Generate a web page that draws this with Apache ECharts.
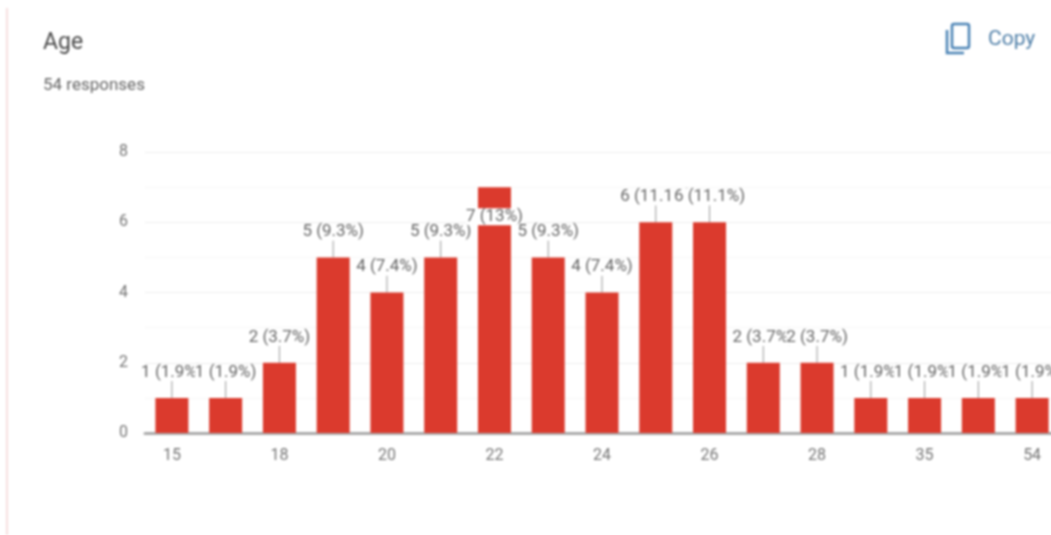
<!DOCTYPE html>
<html><head><meta charset="utf-8">
<style>html,body{margin:0;padding:0;background:#fff;overflow:hidden}#w{width:1051px;height:535px;overflow:hidden}#c{width:1060px;height:535px;filter:blur(0.9px)}</style>
<script src="https://cdn.jsdelivr.net/npm/echarts@6/dist/echarts.min.js"></script>
</head><body><div id="w"><div id="c"></div></div>
<script>
const categories=['15','17','18','19','20','21','22','23','24','25','26','27','28','30','35','40','54'];
const values=[1,1,2,5,4,5,7,5,4,6,6,2,2,1,1,1,1];
const labels=['1 (1.9%)','1 (1.9%)','2 (3.7%)','5 (9.3%)','4 (7.4%)','5 (9.3%)','7 (13%)','5 (9.3%)','4 (7.4%)','6 (11.1%)','6 (11.1%)','2 (3.7%)','2 (3.7%)','1 (1.9%)','1 (1.9%)','1 (1.9%)','1 (1.9%)'];
const yTicks=[0,2,4,6,8];
const chart=echarts.init(document.getElementById('c'),null,{renderer:'canvas'});
chart.setOption({
  animation:false,
  backgroundColor:'#fff',
  textStyle:{fontFamily:'Roboto'},
  title:[
    {text:'Age',left:38,top:27,textStyle:{fontSize:23,fontWeight:'normal',color:'#4a4a4a',fontFamily:'Roboto'}},
    {text:'54 responses',left:38,top:72,textStyle:{fontSize:17,fontWeight:'normal',color:'#666',fontFamily:'Roboto'}},
    {text:'Copy',left:983,top:24,textStyle:{fontSize:21,fontWeight:'normal',color:'#4f7fa8',fontFamily:'Roboto'}}
  ],
  graphic:[
    {type:'rect',shape:{x:6,y:8,width:2,height:527},style:{fill:'#f6dede'}},
    {type:'rect',shape:{x:952,y:24,width:17,height:24,r:2},style:{fill:'none',stroke:'#4a82b5',lineWidth:2.5}},
    {type:'polyline',shape:{points:[[947,30],[947,53],[964,53]]},style:{fill:'none',stroke:'#4a82b5',lineWidth:2.5}}
  ],
  grid:{left:145,right:1,top:152,bottom:102},
  xAxis:{type:'category',data:categories,
    axisLine:{lineStyle:{color:'#aaa',width:3}},axisTick:{show:false},
    axisLabel:{interval:1,color:'#757575',fontSize:16,margin:15,fontFamily:'Roboto'}},
  yAxis:{type:'value',min:0,max:8,interval:2,
    axisLine:{show:false},axisTick:{show:false},
    axisLabel:{formatter:v=>yTicks.includes(v)?String(v):'',color:'#757575',fontSize:16,margin:17,fontFamily:'Roboto'},
    splitLine:{lineStyle:{color:'#eeeeee'}},
    minorTick:{show:false,splitNumber:2},
    minorSplitLine:{show:true,lineStyle:{color:'#f6f6f6'}}},
  series:[{type:'bar',data:values,barWidth:33,
    itemStyle:{color:'#db3a2d'},
    label:{show:true,position:'top',distance:17,
      formatter:p=>labels[p.dataIndex],color:'#666',fontSize:17,fontFamily:'Roboto',
      backgroundColor:'#fff',padding:0},
    labelLine:{show:true,lineStyle:{color:'#999',width:1}},
    labelLayout:p=>p.dataIndex===6?{dy:55,hideOverlap:false}:{hideOverlap:false}
  }]
});
</script></body></html>
